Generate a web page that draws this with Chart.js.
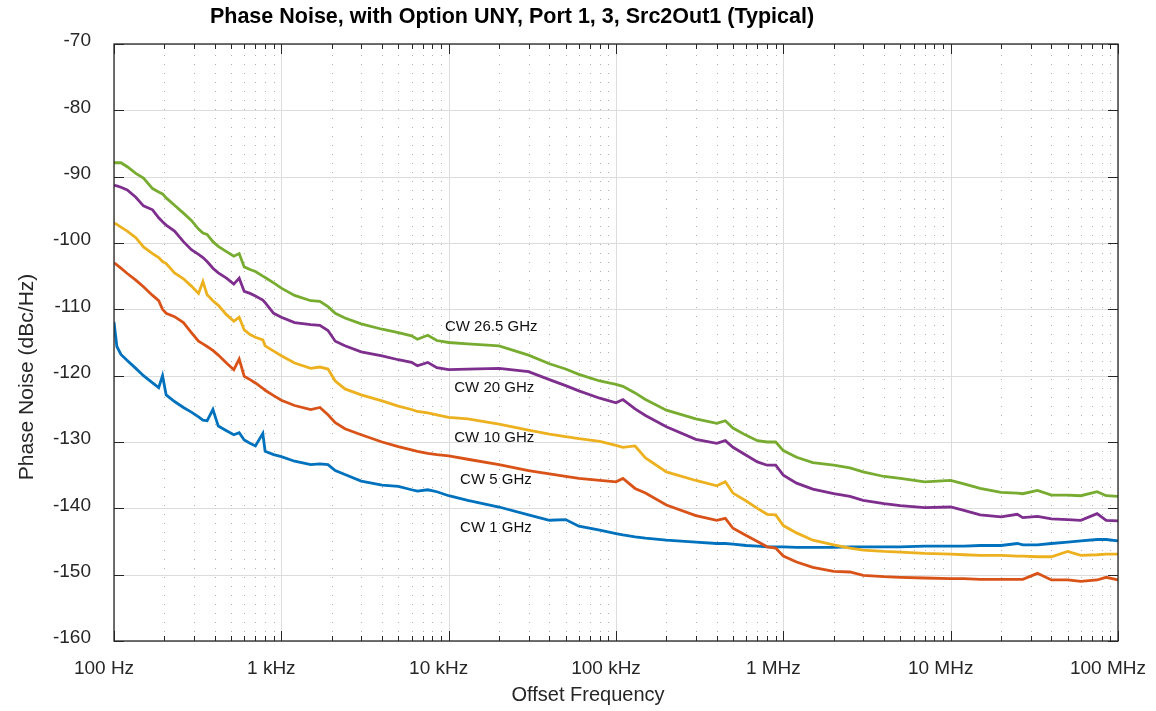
<!DOCTYPE html>
<html>
<head>
<meta charset="utf-8">
<title>Phase Noise</title>
<script src="https://cdn.jsdelivr.net/npm/chart.js@4.4.0/dist/chart.umd.min.js"></script>
<style>
  html, body { margin: 0; padding: 0; background: #fff; }
  #wrap { width: 1156px; height: 711px; }
</style>
</head>
<body>
<div id="wrap"><canvas id="pn" width="1156" height="711"></canvas></div>
<script>
// offset frequencies (Hz), shared by all traces
const offsetFreqs = [
  100, 104, 110, 120, 135, 150, 170, 185, 195, 205,
  230, 260, 290, 320, 340, 360, 390, 420, 470, 520,
  560, 600, 650, 700, 775, 800, 900, 1e3, 1.2e3, 1.5e3,
  1.7e3, 1.9e3, 2.1e3, 2.4e3, 3e3, 4e3, 5e3, 6e3, 6.5e3, 7.5e3,
  8.5e3, 1e4, 1.3e4, 2e4, 3e4, 4e4, 5e4, 6e4, 8e4, 1e5,
  1.1e5, 1.3e5, 1.5e5, 2e5, 3e5, 4e5, 4.5e5, 5e5, 6e5, 7e5,
  8e5, 9e5, 1e6, 1.2e6, 1.5e6, 2e6, 2.5e6, 3e6, 4e6, 5e6,
  7e6, 1e7, 1.2e7, 1.5e7, 2e7, 2.5e7, 2.7e7, 3.3e7, 4e7, 5e7,
  6e7, 7.5e7, 8.5e7, 1e8
];

// phase noise, dBc/Hz
const cw1GHz = [
  -111.9, -115.6, -116.8, -117.7, -118.9, -120.0, -121.1, -121.8, -120.0, -122.9,
  -123.9, -124.8, -125.5, -126.2, -126.7, -126.8, -125.1, -127.6, -128.3, -128.9,
  -128.6, -129.7, -130.2, -130.6, -128.7, -131.4, -131.9, -132.2, -132.9, -133.4,
  -133.3, -133.4, -134.3, -134.9, -135.9, -136.5, -136.7, -137.2, -137.4, -137.2,
  -137.5, -138.1, -138.8, -139.8, -141.0, -141.8, -141.7, -142.7, -143.3, -143.8,
  -144.0, -144.3, -144.5, -144.8, -145.1, -145.3, -145.3, -145.4, -145.6, -145.7,
  -145.8, -145.8, -145.8, -145.9, -145.9, -145.9, -145.8, -145.8, -145.8, -145.8,
  -145.7, -145.7, -145.7, -145.6, -145.6, -145.3, -145.5, -145.5, -145.3, -145.1,
  -144.9, -144.7, -144.7, -144.9
];
const cw5GHz = [
  -103.0, -103.3, -103.8, -104.6, -105.6, -106.6, -107.9, -108.7, -110.0, -110.6,
  -111.1, -112.0, -113.5, -114.8, -115.2, -115.6, -116.2, -116.9, -118.1, -119.1,
  -117.5, -120.1, -120.6, -121.1, -121.9, -122.2, -123.0, -123.7, -124.5, -125.1,
  -124.8, -125.9, -127.1, -128.0, -128.9, -130.0, -130.7, -131.2, -131.4, -131.7,
  -131.9, -132.1, -132.6, -133.4, -134.3, -134.8, -135.2, -135.5, -135.8, -136.0,
  -135.5, -137.0, -137.7, -139.5, -141.1, -141.8, -141.5, -143.0, -144.1, -145.0,
  -145.8, -146.0, -147.2, -148.1, -148.9, -149.5, -149.6, -150.1, -150.3, -150.4,
  -150.5, -150.6, -150.6, -150.7, -150.7, -150.7, -150.7, -149.8, -150.8, -150.8,
  -151.0, -150.8, -150.4, -150.8
];
const cw10GHz = [
  -97.0, -97.2, -97.6, -98.2, -99.2, -100.6, -101.6, -102.2, -102.8, -103.1,
  -104.5, -105.4, -106.5, -107.6, -105.8, -107.8, -108.7, -109.4, -110.8, -111.8,
  -111.2, -113.1, -113.8, -114.2, -114.6, -115.5, -116.3, -117.0, -118.1, -118.9,
  -118.7, -119.0, -120.8, -122.0, -122.9, -123.8, -124.6, -125.1, -125.4, -125.6,
  -125.9, -126.3, -126.5, -127.3, -128.2, -128.8, -129.2, -129.5, -129.9, -130.5,
  -130.8, -130.6, -132.4, -134.5, -135.8, -136.6, -136.0, -137.7, -138.9, -140.0,
  -140.9, -141.0, -142.6, -143.7, -144.8, -145.5, -146.0, -146.3, -146.5, -146.6,
  -146.8, -146.9, -147.0, -147.1, -147.1, -147.2, -147.2, -147.3, -147.3, -146.5,
  -147.1, -147.0, -146.9, -146.9
];
const cw20GHz = [
  -91.3, -91.4, -91.6, -92.0, -93.1, -94.4, -95.0, -96.2, -96.8, -97.3,
  -98.2, -99.8, -101.0, -101.7, -102.2, -102.8, -103.8, -104.5, -105.3, -106.2,
  -105.3, -107.3, -107.6, -108.0, -108.6, -109.0, -110.6, -111.2, -112.0, -112.3,
  -112.4, -113.2, -114.8, -115.5, -116.4, -117.0, -117.6, -118.0, -118.5, -118.0,
  -118.8, -119.1, -119.0, -118.9, -119.4, -120.6, -121.5, -122.3, -123.4, -124.1,
  -123.6, -125.0, -126.0, -127.7, -129.6, -130.2, -129.8, -130.8, -132.0, -133.0,
  -133.5, -133.5, -135.0, -136.2, -137.1, -137.8, -138.2, -138.8, -139.3, -139.6,
  -139.9, -139.8, -140.3, -141.0, -141.3, -140.9, -141.4, -141.2, -141.6, -141.7,
  -141.8, -140.8, -141.8, -141.9
];
const cw26GHz = [
  -87.9, -87.9, -87.9, -88.5, -89.5, -90.2, -91.8, -92.3, -92.6, -93.2,
  -94.3, -95.5, -96.6, -97.9, -98.5, -98.7, -99.8, -100.5, -101.3, -102.0,
  -101.6, -103.6, -104.0, -104.3, -105.0, -105.2, -106.0, -106.8, -107.9, -108.7,
  -108.8, -109.6, -110.6, -111.3, -112.2, -113.0, -113.5, -114.0, -114.5, -113.9,
  -114.7, -115.0, -115.2, -115.5, -116.9, -118.2, -119.0, -119.8, -120.8, -121.3,
  -121.6, -122.6, -123.6, -125.2, -126.5, -127.2, -126.8, -127.9, -129.0, -129.8,
  -130.0, -130.0, -131.3, -132.3, -133.1, -133.5, -133.9, -134.5, -135.2, -135.5,
  -136.0, -135.8, -136.3, -137.0, -137.6, -137.7, -137.8, -137.3, -138.0, -138.0,
  -138.1, -137.5, -138.1, -138.2
];

const seriesNames = ['CW 1 GHz', 'CW 5 GHz', 'CW 10 GHz', 'CW 20 GHz', 'CW 26.5 GHz'];
const seriesValues = [cw1GHz, cw5GHz, cw10GHz, cw20GHz, cw26GHz];
const seriesColors = ['#0072BD', '#D95319', '#EDB120', '#7E2F8E', '#77AC30'];

// where each trace's text label sits (left edge, vertical centre)
const labelFreqs = [11700, 11700, 10800, 10800, 9500];
const labelLevels = [-142.9, -135.7, -129.4, -121.9, -112.6];

const yTicks = [-160, -150, -140, -130, -120, -110, -100, -90, -80, -70];
const xTickValues = [1e2, 1e3, 1e4, 1e5, 1e6, 1e7, 1e8];
const xTickLabels = ['100 Hz', '1 kHz', '10 kHz', '100 kHz', '1 MHz', '10 MHz', '100 MHz'];

const chartTitle = 'Phase Noise, with Option UNY, Port 1, 3, Src2Out1 (Typical)';
const xTitle = 'Offset Frequency';
const yTitle = 'Phase Noise (dBc/Hz)';

const FONT = "'Liberation Sans', Arial, Helvetica, sans-serif";
const INK = '#262626';

// grid, box, inward ticks and text, MATLAB style
const axesDecor = {
  id: 'axesDecor',
  beforeDatasetsDraw(chart) {
    const { ctx, chartArea: a, scales: { x, y } } = chart;
    ctx.save();
    ctx.lineWidth = 1;
    // minor dotted verticals
    ctx.strokeStyle = '#b0b0b0';
    ctx.setLineDash([1, 8]);
    for (let i = 0; i < xTickValues.length - 1; i++) {
      for (let m = 2; m <= 9; m++) {
        const px = Math.round(x.getPixelForValue(m * xTickValues[i])) + 0.5;
        ctx.beginPath();
        ctx.moveTo(px, a.bottom);
        ctx.lineTo(px, a.top);
        ctx.stroke();
      }
    }
    // major solid grid
    ctx.setLineDash([]);
    ctx.strokeStyle = '#dcdcdc';
    xTickValues.forEach(v => {
      const px = Math.round(x.getPixelForValue(v)) + 0.5;
      ctx.beginPath(); ctx.moveTo(px, a.top); ctx.lineTo(px, a.bottom); ctx.stroke();
    });
    yTicks.forEach(v => {
      const py = Math.round(y.getPixelForValue(v)) + 0.5;
      ctx.beginPath(); ctx.moveTo(a.left, py); ctx.lineTo(a.right, py); ctx.stroke();
    });
    ctx.restore();
  },
  afterDatasetsDraw(chart) {
    const { ctx, chartArea: a, scales: { x, y } } = chart;
    ctx.save();
    // trace labels
    ctx.fillStyle = '#111';
    ctx.font = '15px ' + FONT;
    ctx.textAlign = 'left';
    ctx.textBaseline = 'middle';
    seriesNames.forEach((name, i) => {
      ctx.fillText(name, x.getPixelForValue(labelFreqs[i]), y.getPixelForValue(labelLevels[i]));
    });

    // box
    ctx.strokeStyle = INK;
    ctx.lineWidth = 1.3;
    ctx.strokeRect(a.left, a.top, a.right - a.left, a.bottom - a.top);

    // inward ticks
    ctx.lineWidth = 1;
    ctx.beginPath();
    yTicks.forEach(v => {
      const py = Math.round(y.getPixelForValue(v)) + 0.5;
      ctx.moveTo(a.left, py); ctx.lineTo(a.left + 10, py);
      ctx.moveTo(a.right, py); ctx.lineTo(a.right - 10, py);
    });
    for (let i = 0; i < xTickValues.length; i++) {
      const px = Math.round(x.getPixelForValue(xTickValues[i])) + 0.5;
      ctx.moveTo(px, a.bottom); ctx.lineTo(px, a.bottom - 10);
      ctx.moveTo(px, a.top); ctx.lineTo(px, a.top + 10);
      if (i === xTickValues.length - 1) break;
      for (let m = 2; m <= 9; m++) {
        const pm = Math.round(x.getPixelForValue(m * xTickValues[i])) + 0.5;
        ctx.moveTo(pm, a.bottom); ctx.lineTo(pm, a.bottom - 5);
        ctx.moveTo(pm, a.top); ctx.lineTo(pm, a.top + 5);
      }
    }
    ctx.stroke();
    ctx.restore();
  },
  afterDraw(chart) {
    const { ctx } = chart;
    ctx.save();
    ctx.fillStyle = '#000';
    ctx.textAlign = 'center';
    ctx.textBaseline = 'alphabetic';
    ctx.font = 'bold 21.5px ' + FONT;
    ctx.fillText(chartTitle, 512, 23);

    ctx.fillStyle = INK;
    ctx.font = '20px ' + FONT;
    ctx.fillText(xTitle, 588, 701);

    ctx.font = '21px ' + FONT;
    ctx.translate(33, 377);
    ctx.rotate(-Math.PI / 2);
    ctx.fillText(yTitle, 0, 0);
    ctx.restore();
  }
};

const datasets = seriesNames.map((name, i) => ({
  label: name,
  data: offsetFreqs.map((f, k) => ({ x: f, y: seriesValues[i][k] })),
  borderColor: seriesColors[i],
  backgroundColor: seriesColors[i],
  borderWidth: 2.8,
  pointRadius: 0,
  tension: 0,
  order: seriesNames.length - i
}));

new Chart(document.getElementById('pn'), {
  type: 'line',
  data: { datasets },
  plugins: [axesDecor],
  options: {
    responsive: false,
    animation: false,
    devicePixelRatio: 1,
    layout: { padding: { top: 44, right: 38, bottom: 0, left: 0 } },
    plugins: {
      legend: { display: false },
      title: { display: false },
      tooltip: { enabled: false }
    },
    scales: {
      x: {
        type: 'logarithmic',
        min: 100,
        max: 1e8,
        grid: { display: false },
        border: { display: false },
        afterBuildTicks: scale => {
          scale.ticks = xTickValues.map(v => ({ value: v }));
        },
        afterFit: scale => {
          scale.height = 70;
          scale.paddingLeft = 0;
          scale.paddingRight = 0;
        },
        ticks: {
          autoSkip: false,
          maxRotation: 0,
          padding: 8,
          labelOffset: -10,
          color: INK,
          font: { family: FONT, size: 19 },
          callback: (v, i) => xTickLabels[i]
        }
      },
      y: {
        type: 'linear',
        min: -160,
        max: -70,
        grid: { display: false },
        border: { display: false },
        afterBuildTicks: scale => {
          scale.ticks = yTicks.map(v => ({ value: v }));
        },
        afterFit: scale => {
          scale.width = 114;
          scale.paddingTop = 0;
          scale.paddingBottom = 0;
        },
        ticks: {
          padding: 15,
          labelOffset: -3,
          color: INK,
          font: { family: FONT, size: 19 },
          callback: v => String(v)
        }
      }
    }
  }
});
</script>
</body>
</html>
